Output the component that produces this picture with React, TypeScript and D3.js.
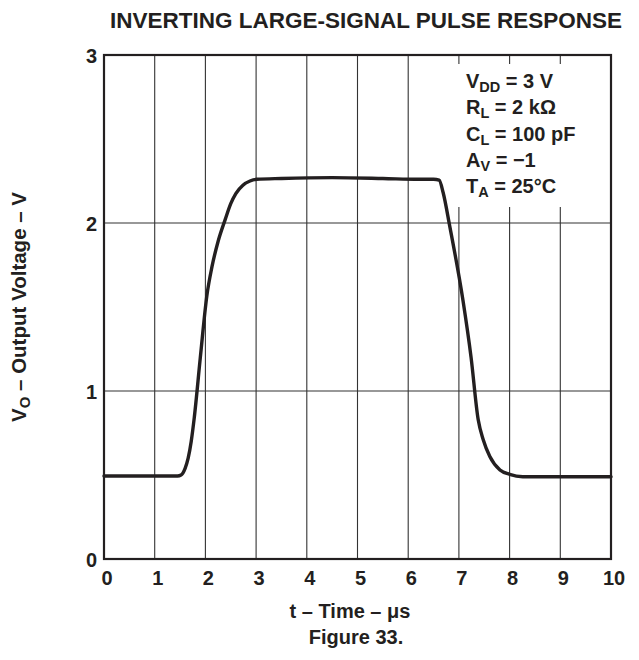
import React from "react";
import * as d3 from "d3";

const title = "INVERTING LARGE-SIGNAL PULSE RESPONSE";
const xTicks = [0, 1, 2, 3, 4, 5, 6, 7, 8, 9, 10];
const yTicks = [0, 1, 2, 3];
const timeUs = [0, 1.45, 1.52, 1.6, 1.66, 1.72, 1.78, 1.9, 2.03, 2.13, 2.25, 2.39, 2.5, 2.6, 2.74, 2.88, 3.01, 3.5, 4.5, 5.5, 6.2, 6.5, 6.61, 6.69, 6.82, 7.08, 7.24, 7.38, 7.48, 7.61, 7.81, 8.0, 8.26, 9, 10];
const voltage = [0.494, 0.494, 0.5, 0.54, 0.6, 0.7, 0.84, 1.2, 1.57, 1.74, 1.89, 2.02, 2.115, 2.175, 2.225, 2.25, 2.26, 2.265, 2.27, 2.265, 2.26, 2.26, 2.255, 2.18, 1.98, 1.54, 1.2, 0.83, 0.71, 0.61, 0.53, 0.504, 0.49, 0.49, 0.49];

export default function App() {
  const W = 639, H = 660;
  const left = 104, right = 611, top = 55, bottom = 559;
  const x = d3.scaleLinear().domain([0, 10]).range([left, right]);
  const y = d3.scaleLinear().domain([0, 3]).range([bottom, top]);
  const pts = timeUs.map((t, i) => [t, voltage[i]] as [number, number]);
  const line = d3.line<[number, number]>().x(d => x(d[0])).y(d => y(d[1])).curve(d3.curveMonotoneX);
  const font = "'Liberation Sans', Arial, sans-serif";
  const box = { x0: 450, x1: 611, y0: 64, y1: 207 };
  const ann = [
    ["V", "DD", " = 3 V"],
    ["R", "L", " = 2 kΩ"],
    ["C", "L", " = 100 pF"],
    ["A", "V", " = −1"],
    ["T", "A", " = 25°C"],
  ];
  return (
    <svg width={W} height={H} style={{ position: "absolute", left: 0, top: 0 }} fontFamily={font} fontWeight="bold" fill="#231f20">
      <rect x={0} y={0} width={W} height={H} fill="#fff" />
      <text x={366} y={28} fontSize={22.5} textAnchor="middle">{title}</text>
      {xTicks.slice(1, -1).map(t => (
        <line key={"gx" + t} x1={x(t)} x2={x(t)} y1={top} y2={bottom} stroke="#333" strokeWidth={1.1} />
      ))}
      {yTicks.slice(1, -1).map(v => (
        <line key={"gy" + v} x1={left} x2={right} y1={y(v)} y2={y(v)} stroke="#333" strokeWidth={1.1} />
      ))}
      <rect x={box.x0} y={box.y0} width={box.x1 - box.x0} height={box.y1 - box.y0} fill="#fff" />
      <path d={line(pts) || ""} fill="none" stroke="#231f20" strokeWidth={3.4} strokeLinejoin="round" strokeLinecap="round" />
      <rect x={left} y={top} width={right - left} height={bottom - top} fill="none" stroke="#231f20" strokeWidth={2.2} />
      {xTicks.map(t => (
        <text key={"tx" + t} x={x(t) + 3} y={bottom + 26} fontSize={20} textAnchor="middle">{t}</text>
      ))}
      {yTicks.map(v => (
        <text key={"ty" + v} x={left - 7} y={y(v) + 8} fontSize={20} textAnchor="end">{v}</text>
      ))}
      <g fontSize={20}>
        {ann.map((a, i) => (
          <text key={i} x={466} y={88 + i * 26.3}>{a[0]}<tspan fontSize={14.5} dy={4}>{a[1]}</tspan><tspan dy={-4}>{a[2]}</tspan></text>
        ))}
      </g>
      <text x={350} y={618} fontSize={20} textAnchor="middle">t – Time – μs</text>
      <text x={356} y={644} fontSize={20} textAnchor="middle">Figure 33.</text>
      <text transform={`translate(26, ${(top + bottom) / 2}) rotate(-90)`} fontSize={20.5} textAnchor="middle">V<tspan fontSize={15} dy={4}>O</tspan><tspan dy={-4}> – Output Voltage – V</tspan></text>
    </svg>
  );
}
